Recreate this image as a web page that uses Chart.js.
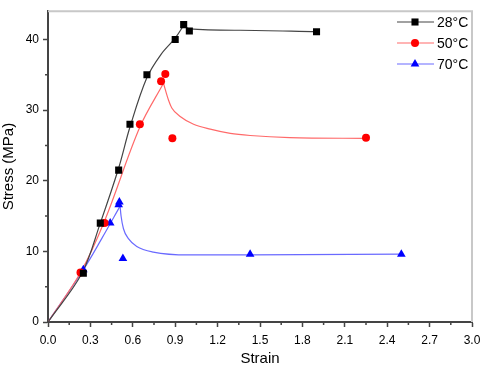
<!DOCTYPE html>
<html>
<head>
<meta charset="utf-8">
<script src="https://cdn.jsdelivr.net/npm/chart.js@4/dist/chart.umd.min.js"></script>
<style>
  html, body { margin: 0; padding: 0; background: #fff; }
  #wrap { width: 480px; height: 368px; }
</style>
</head>
<body>
<div id="wrap"><canvas id="chart" width="480" height="368"></canvas></div>
<script>
// series labels
const seriesNames = ['28°C', '50°C', '70°C'];

// measured points
const strain28 = [0.25, 0.37, 0.5, 0.58, 0.7, 0.9, 0.96, 1.0, 1.9];
const stress28 = [6.9, 14, 21.5, 28, 35, 40, 42.1, 41.2, 41.1];
const strain50 = [0.23, 0.4, 0.65, 0.8, 0.83, 0.88, 2.25];
const stress50 = [7, 14, 28, 34.1, 35.1, 26, 26.1];
const strain70 = [0.25, 0.44, 0.5, 0.505, 0.53, 1.43, 2.5];
const stress70 = [7.4, 14, 16.6, 17, 9, 9.6, 9.6];

// fitted curves, split at the peak
const riseX28 = [0, 0.24, 0.37, 0.5, 0.58, 0.7, 0.8, 0.9, 0.96];
const riseY28 = [0, 6.9, 14, 21.8, 27.6, 34.6, 37.9, 40.2, 42];
const dropX28 = [0.96, 1.0, 1.36, 1.9];
const dropY28 = [42, 41.5, 41.3, 41.1];
const riseX50 = [0, 0.23, 0.4, 0.65, 0.817];
const riseY50 = [0, 7, 14.3, 27.6, 33.8];
const dropX50 = [0.817, 0.853, 0.876, 0.935, 1.03, 1.148, 1.29, 1.43, 1.71, 2.25];
const dropY50 = [33.8, 31.4, 30.3, 29.1, 28.0, 27.3, 26.7, 26.4, 26.1, 26.0];
const riseX70 = [0, 0.25, 0.38, 0.51];
const riseY70 = [0, 7.4, 11.8, 16.4];
const dropX70 = [0.51, 0.517, 0.534, 0.569, 0.628, 0.745, 1.0, 1.43, 2.5];
const dropY70 = [16.4, 15.0, 13.2, 11.8, 10.7, 9.9, 9.5, 9.5, 9.6];

// axis ticks
const xTicks = [0, 0.3, 0.6, 0.9, 1.2, 1.5, 1.8, 2.1, 2.4, 2.7, 3.0];
const yTicks = [0, 10, 20, 30, 40];

const markerColors = ['#000000', '#ff0000', '#0000ff'];
const curveColors = ['#444444', '#ff6a6a', '#6a6aff'];
const markerStyles = ['rect', 'circle', 'triangle'];
const markerSizes = [5, 4, 5];

const toPoints = (xs, ys) => xs.map((x, i) => ({ x: x, y: ys[i] }));

const pointSets = [
  toPoints(strain28, stress28),
  toPoints(strain50, stress50),
  toPoints(strain70, stress70),
];
const riseSets = [
  toPoints(riseX28, riseY28),
  toPoints(riseX50, riseY50),
  toPoints(riseX70, riseY70),
];
const dropSets = [
  toPoints(dropX28, dropY28),
  toPoints(dropX50, dropY50),
  toPoints(dropX70, dropY70),
];

const curveDataset = (label, data, color, mode) => ({
  label: label,
  data: data,
  showLine: true,
  pointRadius: 0,
  borderColor: color,
  borderWidth: 1.2,
  tension: 0.35,
  cubicInterpolationMode: mode,
  fill: false,
  order: 1,
});

let datasets = [];
seriesNames.forEach((name, i) => {
  datasets.push({
    label: name,
    data: pointSets[i],
    showLine: false,
    pointStyle: markerStyles[i],
    pointRadius: markerSizes[i],
    backgroundColor: markerColors[i],
    borderColor: markerColors[i],
    borderWidth: 0,
    order: 0,
  });
});
seriesNames.forEach((name, i) => {
  datasets.push(curveDataset(name + ' rise', riseSets[i], curveColors[i], 'default'));
  datasets.push(curveDataset(name + ' drop', dropSets[i], curveColors[i], 'monotone'));
});

//minor ticks, top/right frame and the legend
const framePlugin = {
  id: 'frame',
  afterDraw(chart) {
    const ctx = chart.ctx;
    const area = chart.chartArea;
    const xs = chart.scales.x;
    const ys = chart.scales.y;
    ctx.save();
    // light frame on top and right
    ctx.strokeStyle = '#c8c8c8';
    ctx.lineWidth = 2;
    ctx.beginPath();
    ctx.moveTo(area.left, area.top);
    ctx.lineTo(area.right, area.top);
    ctx.lineTo(area.right, area.bottom);
    ctx.stroke();

    // minor ticks
    ctx.strokeStyle = '#444';
    ctx.lineWidth = 1.5;
    ctx.beginPath();
    for (let i = 0; i < xTicks.length - 1; i++) {
      const px = xs.getPixelForValue((xTicks[i] + xTicks[i + 1]) / 2);
      ctx.moveTo(px, area.bottom);
      ctx.lineTo(px, area.bottom + 3);
    }
    for (let i = 0; i < yTicks.length; i++) {
      if (yTicks[i] + 5 > ys.max) continue;
      const py = ys.getPixelForValue(yTicks[i] + 5);
      ctx.moveTo(area.left, py);
      ctx.lineTo(area.left - 3, py);
    }
    ctx.stroke();

    // legend
    ctx.font = '14px "Liberation Sans", Arial, sans-serif';
    ctx.textBaseline = 'middle';
    ctx.textAlign = 'left';
    seriesNames.forEach((name, i) => {
      const y = 22 + i * 21;
      ctx.strokeStyle = curveColors[i];
      ctx.lineWidth = 1.2;
      ctx.beginPath();
      ctx.moveTo(397, y);
      ctx.lineTo(434, y);
      ctx.stroke();
      ctx.fillStyle = markerColors[i];
      Chart.helpers.drawPoint(ctx, {
        pointStyle: markerStyles[i],
        radius: markerSizes[i],
        borderWidth: 0,
      }, 415, y);
      ctx.fillStyle = '#000';
      ctx.fillText(name, 437, y + 1);
    });
    ctx.restore();
  },
};

const ctx = document.getElementById('chart');
const myChart = new Chart(ctx, {
  type: 'scatter',
  data: { datasets: datasets },
  options: {
    responsive: false,
    animation: false,
    layout: { padding: { top: 5, right: 8, left: 0, bottom: 0 } },
    plugins: {
      legend: { display: false },
      tooltip: { enabled: false },
    },
    scales: {
      x: {
        type: 'linear',
        min: 0,
        max: 3,
        afterFit: (scale) => {
          scale.height = 46;
          scale.paddingRight = 2;
        },
        afterBuildTicks: (scale) => {
          scale.ticks = xTicks.map((v) => ({ value: v }));
        },
        ticks: {
          callback: (v) => v.toFixed(1),
          color: '#000',
          font: { family: '"Liberation Sans", Arial', size: 12 },
          padding: 6,
          maxRotation: 0,
        },
        grid: {
          drawOnChartArea: false,
          drawTicks: true,
          tickLength: 5,
          tickColor: '#444',
          tickWidth: 1.5,
        },
        border: { display: true, color: '#444', width: 2 },
        title: {
          display: true,
          text: 'Strain',
          color: '#000',
          font: { family: '"Liberation Sans", Arial', size: 15 },
          padding: { top: 8, bottom: 0 },
        },
      },
      y: {
        type: 'linear',
        min: 0,
        max: 44,
        afterFit: (scale) => { scale.width = 48; },
        afterBuildTicks: (scale) => {
          scale.ticks = yTicks.map((v) => ({ value: v }));
        },
        ticks: {
          color: '#000',
          font: { family: '"Liberation Sans", Arial', size: 12 },
          padding: 4,
        },
        grid: {
          drawOnChartArea: false,
          drawTicks: true,
          tickLength: 5,
          tickColor: '#444',
          tickWidth: 1.5,
        },
        border: { display: true, color: '#444', width: 2 },
        title: {
          display: true,
          text: 'Stress (MPa)',
          color: '#000',
          font: { family: '"Liberation Sans", Arial', size: 15 },
          padding: { top: 0, bottom: 2 },
        },
      },
    },
  },
  plugins: [framePlugin],
});
</script>
</body>
</html>
